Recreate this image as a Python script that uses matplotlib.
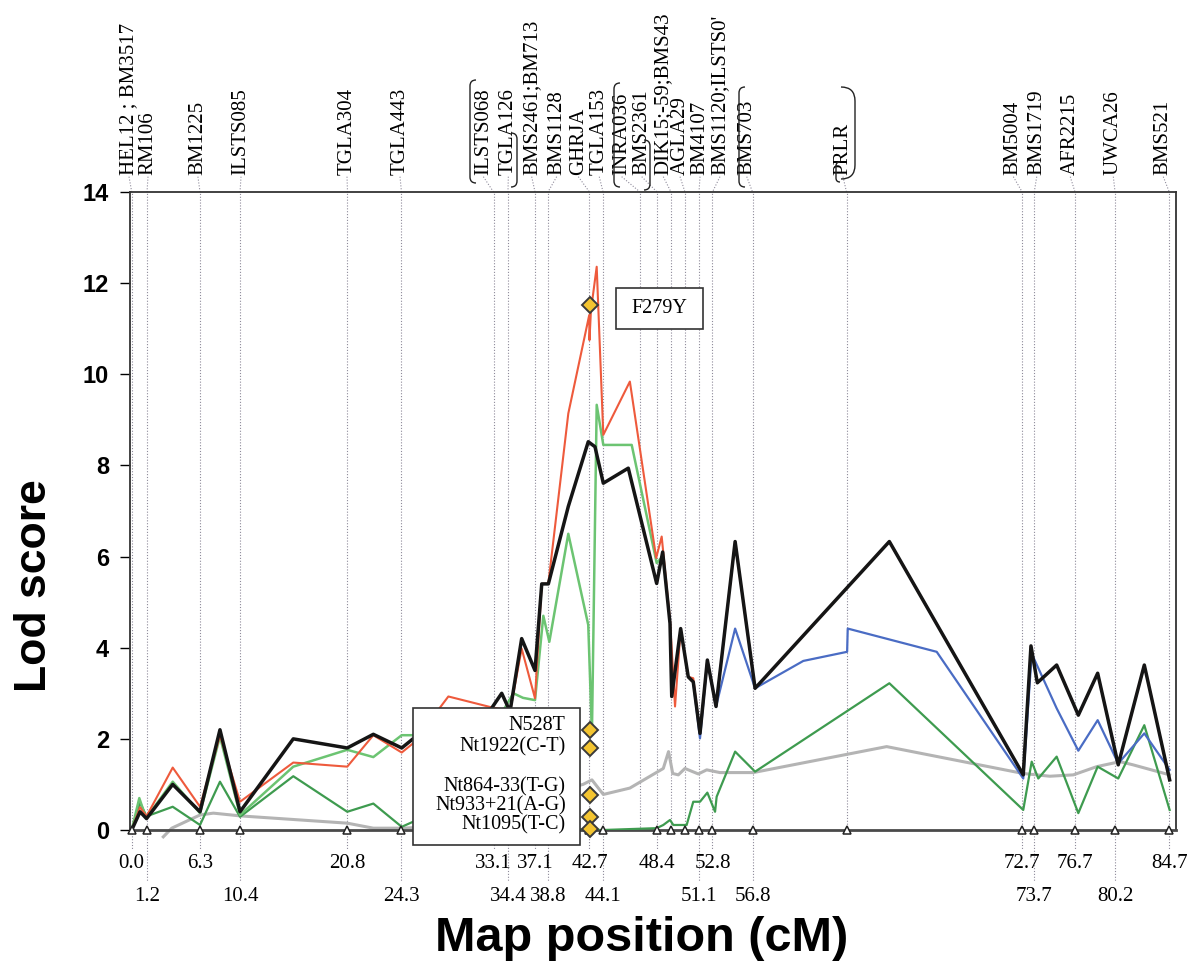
import matplotlib.pyplot as plt
import matplotlib.transforms as mtransforms
from matplotlib.path import Path
from matplotlib.patches import PathPatch, Rectangle

W, H = 1190, 966

# marcadores do mapa (posicao no eixo desenhado, rotulo em cM)
marker_names = ["HEL12 ; BM3517", "RM106", "BM1225", "ILSTS085", "TGLA304", "TGLA443",
                "ILSTS068", "TGLA126", "BMS2461;BM713", "BMS1128", "GHRJA", "TGLA153",
                "INRA036", "BMS2361", "DIK15;-59;BMS43", "AGLA29", "BM4107", "BMS1120;ILSTS0'",
                "BMS703", "PRLR", "BM5004", "BMS1719", "AFR2215", "UWCA26", "BMS521"]
marker_pos = [0.0, 1.25, 5.58, 8.85, 17.63, 22.04, 29.56, 30.74, 32.95, 34.01, 37.40, 38.51,
              41.53, 42.92, 44.06, 45.20, 46.35, 47.45, 50.72, 58.40, 72.75, 73.74, 77.07,
              80.34, 84.77]
marker_cm = ["0.0", "1.2", "6.3", "10.4", "20.8", "24.3", "33.1", "34.4", "37.1", "38.8", "42.7",
             "44.1", None, "48.4", None, None, "51.1", "52.8", "56.8", None, "72.7", "73.7",
             "76.7", "80.2", "84.7"]
label_pos = [-0.22, 1.33, 5.41, 8.93, 17.59, 21.92, 28.73, 30.77, 32.68, 34.72, 36.49, 38.20,
             40.03, 41.67, 43.43, 44.80, 46.43, 48.06, 50.25, 58.11, 72.03, 73.94, 76.68,
             80.20, 84.28]

black_x = [0, 0.68, 1.21, 3.35, 5.58, 7.21, 8.85, 13.20, 17.61, 19.74, 22.06, 22.98, 28.46,
           30.23, 30.91, 31.86, 32.95, 33.50, 34.04, 35.67, 37.30, 37.85, 38.53, 40.57, 42.89,
           43.38, 43.98, 44.12, 44.85, 45.47, 45.88, 46.43, 47.03, 47.74, 49.30, 50.93, 61.90,
           72.84, 73.47, 73.99, 75.57, 77.34, 78.92, 80.60, 82.73, 84.80]
black_y = [0, 0.4, 0.25, 1.0, 0.4, 2.2, 0.4, 2.0, 1.8, 2.1, 1.8, 2.0, 2.3, 3.0, 2.6, 4.2, 3.5,
           5.4, 5.4, 7.1, 8.52, 8.41, 7.61, 7.94, 5.41, 6.1, 4.53, 2.93, 4.42, 3.36, 3.25, 2.12,
           3.73, 2.71, 6.33, 3.11, 6.33, 1.21, 4.04, 3.23, 3.62, 2.52, 3.44, 1.43, 3.62, 1.1]

red_x = [0, 0.68, 1.21, 3.35, 5.58, 7.21, 8.85, 13.20, 17.61, 19.74, 22.06, 22.98, 25.87, 29.27,
         30.23, 30.91, 31.86, 32.95, 33.50, 34.04, 35.67, 37.38, 37.40, 37.52, 37.99, 38.53,
         40.70, 42.85, 43.30, 43.98, 44.39, 44.85, 45.47, 45.88, 46.43, 47.03, 47.74, 49.30,
         50.93, 61.90, 72.84, 73.47, 73.99, 75.57, 77.34, 78.92, 80.60, 82.73, 84.80]
red_y = [0, 0.5, 0.3, 1.37, 0.51, 2.08, 0.62, 1.48, 1.39, 2.08, 1.70, 1.9, 2.93, 2.7, 2.65, 2.6,
         3.98, 2.89, 5.4, 5.41, 9.14, 11.3, 10.75, 11.4, 12.36, 8.67, 9.84, 5.97, 6.44, 4.6,
         2.71, 4.42, 3.36, 3.33, 2.12, 3.73, 2.71, 6.33, 3.11, 6.33, 1.21, 4.04, 3.23, 3.62,
         2.52, 3.44, 1.43, 3.62, 1.1]

lgreen_x = [0, 0.62, 1.17, 3.35, 5.58, 7.21, 8.85, 13.20, 17.61, 19.74, 22.06, 22.98, 30.09,
            31.18, 31.97, 32.95, 33.63, 34.12, 35.67, 37.30, 37.60, 37.99, 38.53, 40.85, 42.89,
            43.38]
lgreen_y = [0, 0.7, 0.26, 1.06, 0.37, 2.05, 0.33, 1.39, 1.76, 1.6, 2.08, 2.08, 2.5, 3.0, 2.9,
            2.85, 4.7, 4.13, 6.5, 4.5, 2.1, 9.33, 8.45, 8.45, 5.86, 6.0]

dgreen_x = [0, 0.68, 1.21, 3.35, 5.58, 7.21, 8.85, 13.20, 17.61, 19.74, 22.06, 22.98, 30.0,
            37.44, 38.53, 42.89, 43.43, 43.98, 44.25, 45.34, 45.88, 46.43, 47.03, 47.66, 47.79,
            49.30, 50.93, 61.90, 72.84, 73.53, 74.07, 75.57, 77.34, 78.92, 80.60, 82.73, 84.80]
dgreen_y = [0, 0.6, 0.3, 0.51, 0.11, 1.06, 0.29, 1.18, 0.40, 0.58, 0.07, 0.18, 0.1, 0.0, 0.0,
            0.04, 0.11, 0.22, 0.11, 0.11, 0.62, 0.62, 0.82, 0.40, 0.73, 1.72, 1.28, 3.22, 0.44,
            1.5, 1.13, 1.61, 0.37, 1.39, 1.13, 2.3, 0.44]

blue_x = [45.47, 45.88, 46.43, 47.03, 47.74, 49.30, 50.93, 54.87, 58.45, 58.50, 65.77, 72.84,
          73.53, 75.57, 77.34, 78.92, 80.60, 82.73, 84.80]
blue_y = [3.36, 3.25, 2.01, 3.73, 2.71, 4.42, 3.11, 3.71, 3.91, 4.42, 3.91, 1.13, 3.87, 2.67,
          1.74, 2.41, 1.46, 2.12, 1.32]

gray_x = [2.58, 3.27, 5.58, 6.67, 8.85, 17.61, 19.74, 22.06, 22.98, 36.87, 37.60, 38.53, 40.70,
          43.43, 43.86, 44.20, 44.66, 45.20, 46.29, 46.98, 48.06, 50.78, 61.68, 72.84, 75.02,
          76.93, 78.84, 80.74, 81.81, 84.80]
gray_y = [-0.15, 0.04, 0.33, 0.37, 0.31, 0.15, 0.04, 0.04, 0.05, 1.0, 1.1, 0.78, 0.92, 1.35,
          1.72, 1.24, 1.21, 1.35, 1.23, 1.32, 1.26, 1.26, 1.83, 1.24, 1.18, 1.21, 1.39, 1.5,
          1.43, 1.21]

# SNPs no gene GHR
snp_pos = 37.42
snp_names = ["F279Y", "N528T", "Nt1922(C-T)", "Nt864-33(T-G)", "Nt933+21(A-G)", "Nt1095(T-C)"]
snp_lod = [11.52, 2.19, 1.79, 0.77, 0.29, 0.02]
snp_text_y = [11.44, 2.30, 1.83, 0.95, 0.53, 0.11]


def fig_pt(px, py):
    return (px / W, 1 - py / H)


def paren(fig, px, top, bottom, side, w=6):
    verts = [fig_pt(px + side * w, top), fig_pt(px, top), fig_pt(px, top + w),
             fig_pt(px, bottom - w), fig_pt(px, bottom), fig_pt(px + side * w, bottom)]
    codes = [Path.MOVETO, Path.CURVE3, Path.CURVE3, Path.LINETO, Path.CURVE3, Path.CURVE3]
    fig.add_artist(PathPatch(Path(verts, codes), transform=fig.transFigure, fill=False,
                             ec='#222222', lw=1.0))


fig = plt.figure(figsize=(W / 100, H / 100), dpi=100)
ax = fig.add_axes([130 / W, 1 - 830 / H, (1176 - 130) / W, (830 - 192) / H])
ax.set_xlim(-0.14, 85.32)
ax.set_ylim(0, 14)

serif = 'Liberation Serif'
sans = 'Liberation Sans'
dots = (0, (1, 1.6))
blend = mtransforms.blended_transform_factory(ax.transData, ax.transAxes)

for p in marker_pos:
    ax.axvline(p, color='#8e8a9a', lw=0.8, ls=dots, zorder=1)

ax.plot(gray_x, gray_y, color='#b4b4b4', lw=2.2, zorder=2, clip_on=False)
ax.plot(dgreen_x, dgreen_y, color='#3e9b4f', lw=1.6, zorder=3)
ax.plot(lgreen_x, lgreen_y, color='#6cc472', lw=1.8, zorder=3)
ax.plot(blue_x, blue_y, color='#4a6cc4', lw=1.6, zorder=4)
ax.plot(red_x, red_y, color='#ee5a3c', lw=1.5, zorder=4)
ax.plot(black_x, black_y, color='#151515', lw=2.5, zorder=5)

tri = [p for i, p in enumerate(marker_pos) if marker_names[i] != "INRA036"]
ax.plot(tri, [0] * len(tri), ls='none', marker='^', ms=6, mfc='white', mec='#222222',
        mew=1.1, zorder=6, clip_on=False)

# caixa com os SNPs
ax.add_patch(Rectangle((23.01, -0.34), 13.62, 3.01, fc='white', ec='#333333', lw=1.2,
                       zorder=7, clip_on=False))
for name, ty in zip(snp_names[1:], snp_text_y[1:]):
    ax.text(35.46, ty, name, ha='right', va='center', fontsize=14.5, family=serif, zorder=8)
ax.add_patch(Rectangle((39.57, 10.99), 7.08, 0.90, fc='white', ec='#333333', lw=1.2, zorder=7))
ax.text(43.11, snp_text_y[0], snp_names[0], ha='center', va='center', fontsize=14.5,
        family=serif, zorder=8)
ax.plot([snp_pos] * len(snp_lod), snp_lod, ls='none', marker='D', ms=8, mfc='#f3c431',
        mec='#3a3a3a', mew=1.4, zorder=9, clip_on=False)

# rotulos dos marcadores em cima
for name, p, lp in zip(marker_names, marker_pos, label_pos):
    ax.plot([lp, p], [1.024, 1.0], transform=blend, color='#8e8a9a', lw=0.8, ls=dots,
            clip_on=False)
    ax.text(lp, 1.026, name, rotation=90, ha='center', va='bottom', transform=blend,
            fontsize=15, family=serif)

# posicoes em cM embaixo, em duas linhas alternadas
k = 0
for p, cm in zip(marker_pos, marker_cm):
    if cm is None:
        continue
    row = k % 2
    end = -0.031 if row == 0 else -0.082
    ty = -0.052 if row == 0 else -0.104
    ax.plot([p, p], [0, end], transform=blend, color='#8e8a9a', lw=0.8, ls=dots, clip_on=False)
    ax.text(p, ty, cm, ha='center', va='center', transform=blend, fontsize=15, family=serif)
    k += 1

paren(fig, 470, 80, 183, 1)
paren(fig, 517, 133, 187, -1)
paren(fig, 614, 83, 187, 1)
paren(fig, 650, 140, 190, -1)
paren(fig, 739, 87, 187, 1)
paren(fig, 855, 87, 179, -1, w=14)
paren(fig, 836, 162, 182, 1, w=4)

ax.set_xticks([])
ax.set_yticks(range(0, 15, 2))
ax.tick_params(axis='y', length=7, width=1, pad=8, labelsize=17)
for t in ax.get_yticklabels():
    t.set_fontweight('bold')
    t.set_family(sans)
for s in ['top', 'right', 'left']:
    ax.spines[s].set_color('#333333')
    ax.spines[s].set_linewidth(1.3)
ax.spines['bottom'].set_color('#4a4a4a')
ax.spines['bottom'].set_linewidth(2)

fig.text(35 / W, 1 - 586 / H, 'Lod score', rotation=90, ha='center', va='center',
         fontsize=32, fontweight='bold', family=sans)
fig.text(642 / W, 1 - 951 / H, 'Map position (cM)', ha='center', va='baseline',
         fontsize=35, fontweight='bold', family=sans)

fig.savefig('out.png', dpi=100)
plt.close()
